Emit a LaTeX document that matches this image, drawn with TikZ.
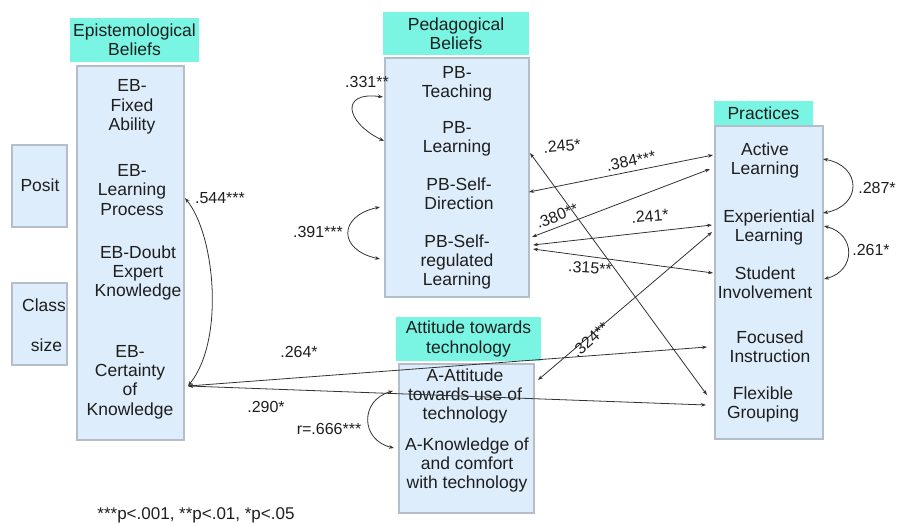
\documentclass[tikz,border=0pt]{standalone}
\usepackage{fontspec}
\setmainfont{Liberation Sans}
\usetikzlibrary{arrows.meta}
\definecolor{hdr}{RGB}{122,245,228}
\definecolor{bodyc}{RGB}{221,237,251}
\definecolor{bordc}{RGB}{180,190,200}
\definecolor{txt}{RGB}{30,30,30}
\definecolor{ln}{RGB}{50,50,50}
\begin{document}
\begin{tikzpicture}[x=1pt,y=-1pt,
  hdrbox/.style={fill=hdr, draw=none, inner sep=0pt, align=center, text=txt,
    font=\fontsize{17.5}{19.3}\selectfont},
  bodybox/.style={fill=bodyc, draw=bordc, line width=1.2pt, inner sep=0pt},
  txtnode/.style={align=center, inner sep=0pt, text=txt,
    font=\fontsize{17.5}{19.3}\selectfont},
  lbl/.style={inner sep=0pt, text=txt, font=\fontsize{16}{18}\selectfont},
  bi/.style={draw=ln, line width=0.8pt,
    {Stealth[length=5pt,width=3.6pt]}-{Stealth[length=5pt,width=3.6pt]}}
]
\useasboundingbox (0,0) rectangle (898,523);

% ---- boxes ----
\node[bodybox, minimum width=107pt, minimum height=374pt] (eb) at (130.5,253) {};
\node[hdrbox, minimum width=129pt, minimum height=44pt] (ebh) at (134.5,40) {Epistemological\\Beliefs};
\node[bodybox, minimum width=55pt, minimum height=82pt] (posit) at (39.5,186) {};
\node[bodybox, minimum width=55pt, minimum height=82pt] (class) at (39.5,324) {};
\node[bodybox, minimum width=144pt, minimum height=239pt] (pb) at (457,177.5) {};
\node[hdrbox, minimum width=146pt, minimum height=43pt] (pbh) at (456,33.5) {Pedagogical\\Beliefs};
\node[bodybox, minimum width=135pt, minimum height=149pt] (att) at (466.5,438.5) {};
\node[hdrbox, minimum width=145pt, minimum height=44pt] (atth) at (468.5,339) {Attitude towards\\technology};
\node[bodybox, minimum width=108pt, minimum height=313pt] (pr) at (769,282.5) {};
\node[hdrbox, minimum width=99pt, minimum height=24pt] (prh) at (763.5,113) {Practices};

% ---- texts ----
\node[txtnode] (tposit) at (40,185) {Posit};
\node[txtnode] (tclass) at (44,325) {Class\\[21pt]\ size};
\node[txtnode] (ebfa) at (132,107) {EB-\\Fixed\\Ability};
\node[txtnode] (eblp) at (132,190) {EB-\\Learning\\Process};
\node[txtnode] (ebdk) at (138,273) {EB-Doubt\\Expert\\Knowledge};
\node[txtnode] (ebck) at (130,382) {EB-\\Certainty\\of\\Knowledge};
\node[txtnode] (pbt) at (457,84) {PB-\\Teaching};
\node[txtnode] (pbl) at (457,139) {PB-\\Learning};
\node[txtnode] (pbsd) at (459,194) {PB-Self-\\Direction};
\node[txtnode] (pbsr) at (457,262) {PB-Self-\\regulated\\Learning};
\node[txtnode] (aa) at (465,396) {A-Attitude\\towards use of\\technology};
\node[txtnode] (ak) at (467,465) {A-Knowledge of\\and comfort\\with technology};
\node[txtnode] (al) at (765,160.5) {Active\\Learning};
\node[txtnode] (el) at (769,227.5) {Experiential\\Learning};
\node[txtnode] (si) at (765,282.5) {Student\\Involvement};
\node[txtnode] (fi) at (770,346.5) {Focused\\Instruction};
\node[txtnode] (fg) at (763,404.5) {Flexible\\Grouping};

% ---- connector end points ----
\coordinate (eb-lp) at (185,198);
\coordinate (eb-ck) at (188,386);
\coordinate (pb-t) at (383,97);
\coordinate (pb-l) at (384,141);
\coordinate (pb-lr) at (530,153);
\coordinate (pb-sd) at (380,207);
\coordinate (pb-sdr) at (529,192);
\coordinate (pb-sr) at (380,259);
\coordinate (pb-sr1) at (532,237);
\coordinate (pb-sr2) at (533,245);
\coordinate (pb-sr3) at (533,249);
\coordinate (a-a) at (393,391);
\coordinate (a-ar) at (538,380);
\coordinate (a-k) at (394,448);
\coordinate (p-al1) at (713,155);
\coordinate (p-al2) at (710,169);
\coordinate (p-alr) at (823,159);
\coordinate (p-el1) at (712,225);
\coordinate (p-el2) at (712,232);
\coordinate (p-elr1) at (823,213);
\coordinate (p-elr2) at (824,226);
\coordinate (p-si) at (713,273);
\coordinate (p-sir) at (824,279);
\coordinate (p-fi) at (707,347);
\coordinate (p-fg1) at (707,395);
\coordinate (p-fg2) at (706,405);

% ---- connectors ----
\draw[bi] (eb-lp) .. controls (215,235) and (225,340) .. (eb-ck);
\draw[bi] (eb-ck) -- (p-fi);
\draw[bi] (eb-ck) -- (p-fg2);
\draw[bi] (pb-t) .. controls (340,91) and (345,122) .. (pb-l);
\draw[bi] (pb-sd) .. controls (338,216) and (338,250) .. (pb-sr);
\draw[bi] (a-a) .. controls (360,400) and (360,440) .. (a-k);
\draw[bi] (p-alr) .. controls (862,166) and (862,206) .. (p-elr1);
\draw[bi] (p-elr2) .. controls (856,234) and (856,271) .. (p-sir);
\draw[bi] (pb-lr) -- (p-fg1);
\draw[bi] (pb-sdr) -- (p-al1);
\draw[bi] (pb-sr1) -- (p-al2);
\draw[bi] (pb-sr2) -- (p-el1);
\draw[bi] (pb-sr3) -- (p-si);
\draw[bi] (a-ar) -- (p-el2);

% ---- labels ----
\node[lbl] (l544) at (220,198) {.544***};
\node[lbl] (l331) at (367,82) {.331**};
\node[lbl] (l391) at (318,232) {.391***};
\node[lbl, rotate=5] (l245) at (562,146) {.245*};
\node[lbl, rotate=11] (l384) at (631,161) {.384***};
\node[lbl, rotate=21] (l380) at (557,216) {.380**};
\node[lbl, rotate=5] (l241) at (650,216) {.241*};
\node[lbl, rotate=-4] (l315) at (590,268) {.315**};
\node[lbl, rotate=42] (l324) at (590,340) {.324**};
\node[lbl] (l264) at (299,352) {.264*};
\node[lbl] (l290) at (266,407) {.290*};
\node[lbl] (l666) at (329,429) {r=.666***};
\node[lbl] (l287) at (877,188) {.287*};
\node[lbl] (l261) at (871,250) {.261*};
\node[lbl, font=\fontsize{17}{19}\selectfont] (foot) at (196,515) {***p<.001, **p<.01, *p<.05};
\end{tikzpicture}
\end{document}
